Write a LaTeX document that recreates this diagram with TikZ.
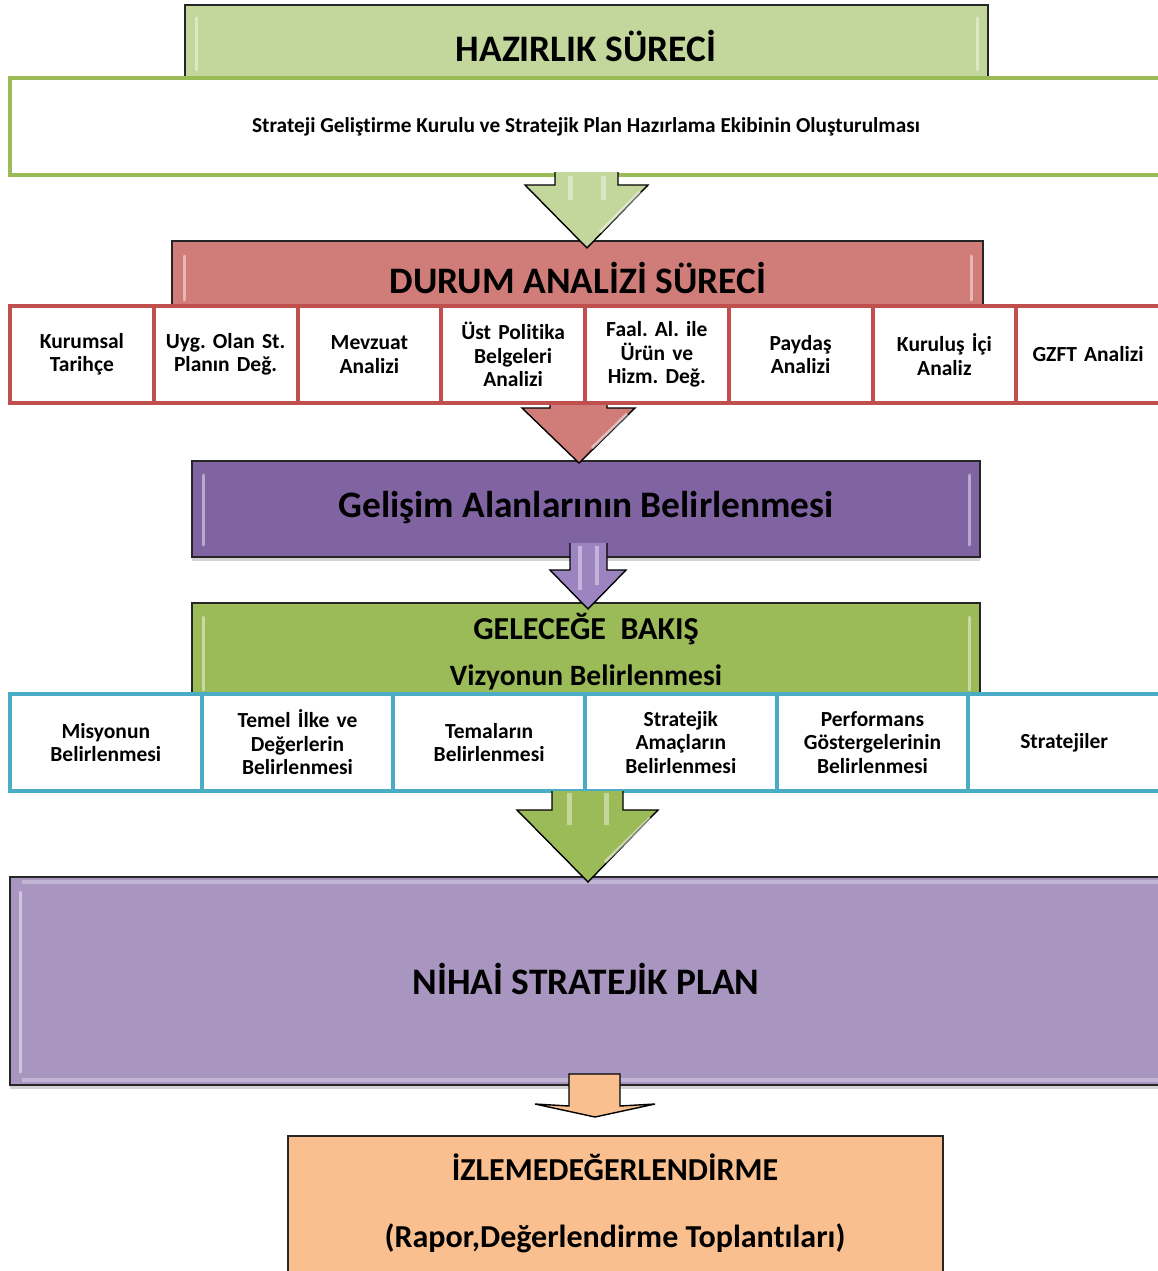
\documentclass[tikz,border=0pt]{standalone}
\usepackage{fontspec}
\setmainfont{Carlito}[Ligatures=NoCommon]
\usetikzlibrary{shadows}
\definecolor{cGreenL}{HTML}{C3D69B}
\definecolor{cGreen}{HTML}{9BBB59}
\definecolor{cRedF}{HTML}{D07D7A}
\definecolor{cRedB}{HTML}{C0504D}
\definecolor{cPurple}{HTML}{8064A2}
\definecolor{cPurpleA}{HTML}{9C84C0}
\definecolor{cPurpleL}{HTML}{A895C0}
\definecolor{cBlue}{HTML}{4BACC6}
\definecolor{cOrange}{HTML}{F9BF8F}
\frenchspacing
\begin{document}
\begin{tikzpicture}[x=1pt,y=-1pt,
  bevelbox/.style={draw=black!85, line width=1.6pt, anchor=north west, inner sep=0pt, outer sep=0pt},
  plainbox/.style={line width=4pt, fill=white, anchor=north west, inner sep=0pt, outer sep=0pt},
  cellbase/.style={line width=4pt, fill=white, anchor=north west, inner sep=0pt, outer sep=0pt,
     minimum height=97pt, align=center, font={\fontsize{21.5}{23.5}\selectfont\bfseries\frenchspacing}},
  redcell/.style={cellbase, draw=cRedB, minimum width=143.75pt, text width=138pt},
  bluecell/.style={cellbase, draw=cBlue, minimum width=191.67pt, text width=184pt},
  bigtitle/.style={font={\fontsize{37.4}{42}\selectfont\bfseries}, inner sep=0pt},
  midtitle/.style={font={\fontsize{32}{36}\selectfont\bfseries}, inner sep=0pt},
  hilite/.style={white, opacity=0.45, line width=3pt, line cap=round},
  blockarrow/.style={draw=black, line width=1.4pt, line join=miter},
  shaftgloss/.style={white, opacity=0.4, line width=5pt}
]
\useasboundingbox (0,0) rectangle (1158,1271);

% ---------- HAZIRLIK SURECI ----------
\node[bevelbox, fill=cGreenL, minimum width=803pt, minimum height=80pt] (hz) at (185,5) {};
\draw[hilite] (196,18) -- (196,70);
\draw[hilite] (977,18) -- (977,70);
\node[bigtitle] (hzt) at (586,46) {HAZIRLIK SÜRECİ};

\node[plainbox, draw=cGreen, minimum width=1160pt, minimum height=97pt] (wb) at (10,78) {};
\node[font={\fontsize{21.3}{24}\selectfont\bfseries}, inner sep=0pt] (wbt) at (586,127)
  {Strateji Geliştirme Kurulu ve Stratejik Plan Hazırlama Ekibinin Oluşturulması};

% ---------- DURUM ANALIZI ----------
\node[bevelbox, fill=cRedF, minimum width=811pt, minimum height=66pt] (dur) at (172,241) {};
\draw[hilite] (184,256) -- (184,300);
\draw[hilite] (971,256) -- (971,300);
\node[bigtitle] (durt) at (578,278) {DURUM ANALİZİ SÜRECİ};

% arrow 1 (green light)
\filldraw[blockarrow, fill=cGreenL] (555,172) -- (555,185) -- (525,185) -- (587,248) -- (648,185) -- (618,185) -- (618,172);
\draw[shaftgloss] (570,176) -- (570,200);
\draw[shaftgloss] (603,176) -- (603,200);
\draw[white, opacity=0.5, line width=3pt] (640,192) -- (600,232);

% ---------- Gelisim ----------
\node[bevelbox, fill=cPurple, minimum width=788pt, minimum height=96pt,
      drop shadow={opacity=0.35, shadow xshift=0pt, shadow yshift=-4pt}] (gel) at (192,461) {};
\draw[hilite] (203,475) -- (203,545);
\draw[hilite] (969,475) -- (969,545);
\node[bigtitle] (gelt) at (586,508) {Gelişim Alanlarının Belirlenmesi};

% arrow 2 (red)
\filldraw[blockarrow, fill=cRedF] (550,380) -- (550,408) -- (522,408) -- (579,463) -- (635,408) -- (607,408) -- (607,380);
\draw[white, opacity=0.5, line width=3pt] (627,414) -- (592,448);

% red row
\node[redcell] (r1) at (10,306) {Kurumsal\\Tarihçe};
\node[redcell] (r2) at (153.75,306) {Uyg. Olan St.\\Planın Değ.};
\node[redcell] (r3) at (297.5,306) {Mevzuat\\Analizi};
\node[redcell] (r4) at (441.25,306) {Üst Politika\\Belgeleri\\Analizi};
\node[redcell] (r5) at (585,306) {Faal. Al. ile\\Ürün ve\\Hizm. Değ.};
\node[redcell] (r6) at (728.75,306) {Paydaş\\Analizi};
\node[redcell] (r7) at (872.5,306) {Kuruluş İçi\\Analiz};
\node[redcell] (r8) at (1016.25,306) {GZFT Analizi};

% ---------- GELECEGE BAKIS ----------
\node[bevelbox, fill=cGreen, minimum width=788pt, minimum height=92pt,
      drop shadow={opacity=0.3, shadow xshift=0pt, shadow yshift=-3pt}] (gb) at (192,603) {};
\draw[hilite] (203,617) -- (203,690);
\draw[hilite] (969,617) -- (969,690);
\node[midtitle] (gbt1) at (586,629) {GELECEĞE\ \ BAKIŞ};
\node[midtitle, font={\fontsize{29.5}{34}\selectfont\bfseries}] (gbt2) at (586,677) {Vizyonun Belirlenmesi};

% arrow 3 (purple)
\filldraw[blockarrow, fill=cPurpleA] (570,543) -- (570,570) -- (550,570) -- (588,609) -- (626,570) -- (607,570) -- (607,543);
\draw[shaftgloss, line width=4pt] (580,546) -- (580,590);
\draw[shaftgloss, line width=4pt] (597,546) -- (597,585);

% blue row
\node[bluecell] (b1) at (10,694) {Misyonun\\Belirlenmesi};
\node[bluecell] (b2) at (201.67,694) {Temel İlke ve\\Değerlerin\\Belirlenmesi};
\node[bluecell] (b3) at (393.33,694) {Temaların\\Belirlenmesi};
\node[bluecell] (b4) at (585,694) {Stratejik\\Amaçların\\Belirlenmesi};
\node[bluecell] (b5) at (776.67,694) {Performans\\Göstergelerinin\\Belirlenmesi};
\node[bluecell] (b6) at (968.33,694) {Stratejiler};

% ---------- NIHAI ----------
\node[bevelbox, fill=cPurpleL, minimum width=1160pt, minimum height=208pt,
      drop shadow={opacity=0.35, shadow xshift=0pt, shadow yshift=-4pt}] (nih) at (10,877) {};
\draw[hilite] (20,892) -- (20,1072);
\draw[white, opacity=0.3, line width=4pt] (22,882) -- (1158,882);
\draw[white, opacity=0.3, line width=4pt] (22,1080) -- (1158,1080);
\node[bigtitle] (niht) at (586,979) {NİHAİ STRATEJİK PLAN};

% arrow 4 (green)
\filldraw[blockarrow, fill=cGreen] (552,791) -- (552,810) -- (517,810) -- (588,882) -- (658,810) -- (623,810) -- (623,791);
\draw[shaftgloss] (569,793) -- (569,825);
\draw[shaftgloss] (606,793) -- (606,825);
\draw[white, opacity=0.5, line width=3pt] (650,818) -- (605,862);

% arrow 5 (orange)
\filldraw[blockarrow, fill=cOrange] (569,1074) -- (620,1074) -- (620,1106) -- (655,1104) -- (595,1117) -- (535,1104) -- (569,1106) -- cycle;

% ---------- IZLEME ----------
\node[bevelbox, fill=cOrange, minimum width=655pt, minimum height=150pt] (izl) at (288,1136) {};
\node[midtitle] (izt1) at (615,1167) {İZLEMEDEĞERLENDİRME};
\node[midtitle] (izt2) at (615,1238) {(Rapor,Değerlendirme Toplantıları)};
\end{tikzpicture}
\end{document}
